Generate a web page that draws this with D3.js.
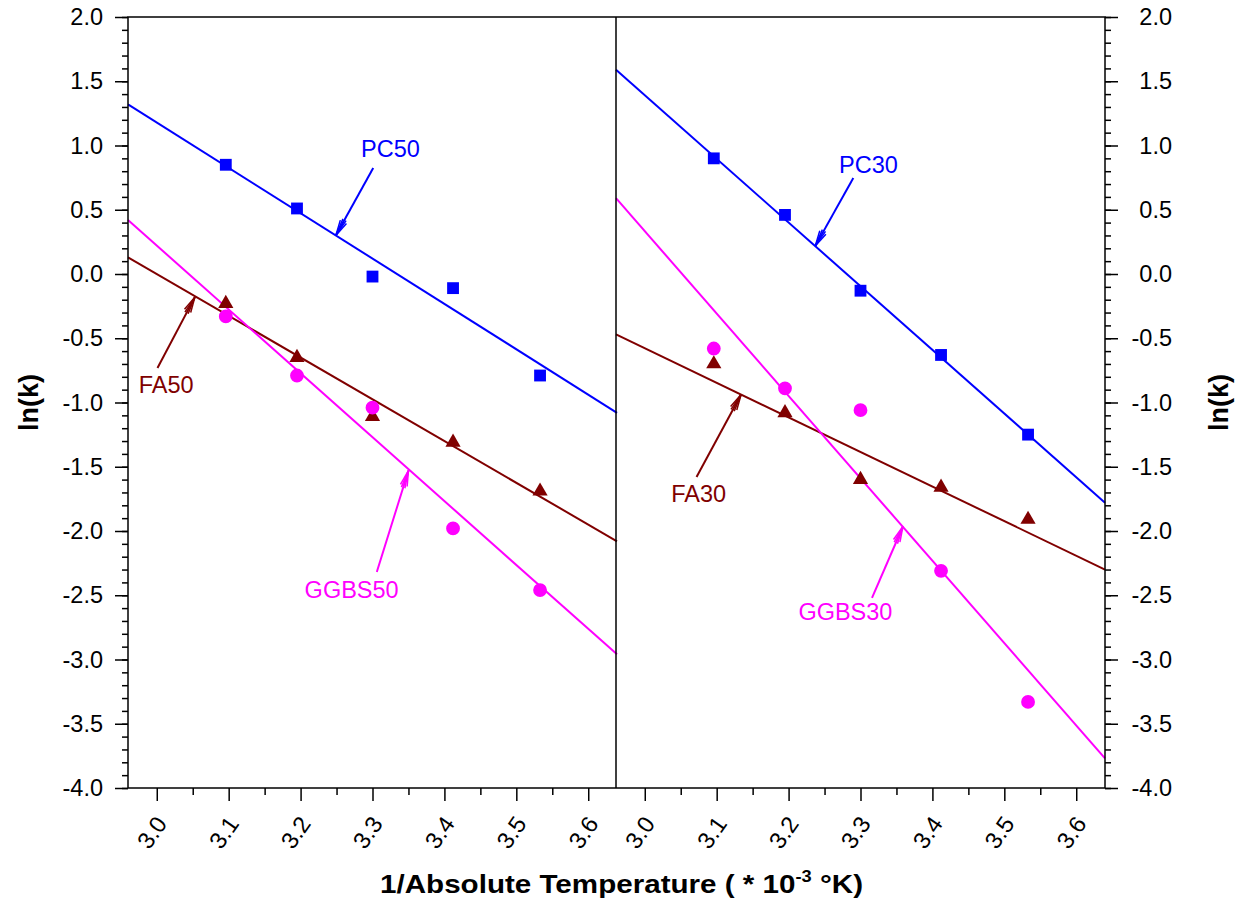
<!DOCTYPE html>
<html>
<head>
<meta charset="utf-8">
<script src="https://cdn.jsdelivr.net/npm/d3@7"></script>
<style>
  body { margin: 0; background: #fff; }
  svg { font-family: "Liberation Sans", Arial, sans-serif; }
  .axis path, .axis line { stroke: #000; stroke-width: 1.5px; }
  .axis text { font-size: 23.5px; fill: #000; }
</style>
</head>
<body>
<div id="chart"></div>
<script>
// inverse absolute temperature (1/K * 10^3)
const invTemp = [3.096, 3.195, 3.300, 3.412, 3.533];

const pc50 = [0.85, 0.51, -0.02, -0.11, -0.79];
const fa50 = [-0.23, -0.65, -1.11, -1.31, -1.69];
const ggbs50 = [-0.33, -0.79, -1.04, -1.98, -2.46];
const pc30 = [0.90, 0.46, -0.13, -0.63, -1.25];
const fa30 = [-0.70, -1.08, -1.60, -1.66, -1.91];
const ggbs30 = [-0.58, -0.89, -1.06, -2.31, -3.33];

// fitted lines, value at x = 2.96 and x = 3.64
const pc50Fit = [1.32, -1.08];
const fa50Fit = [0.13, -2.08];
const ggbs50Fit = [0.42, -2.96];
const pc30Fit = [1.59, -1.78];
const fa30Fit = [-0.47, -2.30];
const ggbs30Fit = [0.59, -3.77];

const xTicks = [3.0, 3.1, 3.2, 3.3, 3.4, 3.5, 3.6];
const xMinor = [3.05, 3.15, 3.25, 3.35, 3.45, 3.55];
const yTicks = [2.0, 1.5, 1.0, 0.5, 0.0, -0.5, -1.0, -1.5, -2.0, -2.5, -3.0, -3.5, -4.0];

// label text, anchor of text, arrow start, arrow tip (data units)
const labels50 = [
  { text: 'PC50', kind: 'pc', t: [3.325, 0.91], a: [3.301, 0.825], b: [3.249, 0.30] },
  { text: 'FA50', kind: 'fa', t: [3.013, -0.926], a: [3.001, -0.732], b: [3.053, -0.18] },
  { text: 'GGBS50', kind: 'ggbs', t: [3.271, -2.52], a: [3.306, -2.319], b: [3.35, -1.53] }
];
const labels30 = [
  { text: 'PC30', kind: 'pc', t: [3.311, 0.786], a: [3.290, 0.747], b: [3.237, 0.217] },
  { text: 'FA30', kind: 'fa', t: [3.075, -1.774], a: [3.072, -1.58], b: [3.134, -0.938] },
  { text: 'GGBS30', kind: 'ggbs', t: [3.279, -2.693], a: [3.316, -2.521], b: [3.359, -1.965] }
];

const colors = { pc: '#0000ff', fa: '#800000', ggbs: '#ff00ff' };

const width = 1244, height = 909;
const plotTop = 17, plotBottom = 788;
const panelW = 489;
const left0 = 128;

const svg = d3.select('#chart').append('svg')
  .attr('width', width)
  .attr('height', height);

const yScale = d3.scaleLinear().domain([-4, 2]).range([plotBottom, plotTop]);
const yMinorTicks = d3.range(-40, 21).map(d => d / 10);

function drawPanel(x0, series, labels) {
  const xScale = d3.scaleLinear().domain([2.96, 3.64]).range([x0, x0 + panelW]);
  const g = svg.append('g');

  // bottom axis, major + minor
  g.append('g')
    .attr('class', 'axis')
    .attr('transform', `translate(0,${plotBottom})`)
    .call(d3.axisBottom(xScale).tickValues(xMinor).tickSize(7).tickFormat(''))
    .call(a => a.select('.domain').remove());

  const xa = g.append('g')
    .attr('class', 'axis')
    .attr('transform', `translate(0,${plotBottom})`)
    .call(d3.axisBottom(xScale).tickValues(xTicks).tickSize(13).tickSizeOuter(0)
      .tickFormat(d => d.toFixed(1)));
  xa.select('.domain').remove();
  xa.selectAll('text')
    .attr('text-anchor', 'end')
    .attr('dy', '0.35em')
    .attr('transform', 'translate(4,31) rotate(-55)')
    .attr('x', 0).attr('y', 0);

  // fitted lines
  const line = d3.line().x(d => xScale(d[0])).y(d => yScale(d[1]));
  series.forEach(s => {
    g.append('path')
      .datum([[2.96, s.fit[0]], [3.64, s.fit[1]]])
      .attr('d', line)
      .attr('fill', 'none')
      .attr('stroke', colors[s.kind])
      .attr('stroke-width', 2);
  });

  // markers
  series.forEach(s => {
    const pts = invTemp.map((x, i) => [x, s.values[i]]);
    const sym = s.kind === 'pc' ? d3.symbolSquare : s.kind === 'fa' ? d3.symbolTriangle : d3.symbolCircle;
    const size = s.kind === 'pc' ? 140 : s.kind === 'fa' ? 100 : 150;
    g.selectAll(null)
      .data(pts)
      .join('path')
      .attr('d', d3.symbol().type(sym).size(size))
      .attr('transform', d => `translate(${xScale(d[0])},${yScale(d[1])})`)
      .attr('fill', colors[s.kind]);
  });

  // annotations with arrows
  labels.forEach(l => {
    const c = colors[l.kind];
    g.append('text')
      .attr('x', xScale(l.t[0]))
      .attr('y', yScale(l.t[1]))
      .attr('text-anchor', 'middle')
      .attr('font-size', 23.5)
      .attr('fill', c)
      .text(l.text);
    const ax = xScale(l.a[0]), ay = yScale(l.a[1]);
    const bx = xScale(l.b[0]), by = yScale(l.b[1]);
    g.append('line')
      .attr('x1', ax).attr('y1', ay).attr('x2', bx).attr('y2', by)
      .attr('stroke', c).attr('stroke-width', 2);
    const ang = Math.atan2(ay - by, ax - bx);
    [-0.22, -0.1, 0.1, 0.22].forEach(da => {
      const len = Math.abs(da) > 0.15 ? 16 : 18;
      g.append('line')
        .attr('x1', bx).attr('y1', by)
        .attr('x2', bx + len * Math.cos(ang + da))
        .attr('y2', by + len * Math.sin(ang + da))
        .attr('stroke', c).attr('stroke-width', 1.5);
    });
  });
  return xScale;
}

drawPanel(left0, [
  { kind: 'pc', values: pc50, fit: pc50Fit },
  { kind: 'fa', values: fa50, fit: fa50Fit },
  { kind: 'ggbs', values: ggbs50, fit: ggbs50Fit }
], labels50);

drawPanel(left0 + panelW - 1, [
  { kind: 'pc', values: pc30, fit: pc30Fit },
  { kind: 'fa', values: fa30, fit: fa30Fit },
  { kind: 'ggbs', values: ggbs30, fit: ggbs30Fit }
], labels30);

const right0 = left0 + 2 * panelW - 1;

// left y axis
svg.append('g')
  .attr('class', 'axis')
  .attr('transform', `translate(${left0},0)`)
  .call(d3.axisLeft(yScale).tickValues(yMinorTicks).tickSize(6).tickFormat(''))
  .call(a => a.select('.domain').remove());
svg.append('g')
  .attr('class', 'axis')
  .attr('transform', `translate(${left0},0)`)
  .call(d3.axisLeft(yScale).tickValues(yTicks).tickSize(13).tickPadding(12).tickSizeOuter(0)
    .tickFormat(d => d.toFixed(1)))
  .call(a => a.select('.domain').remove());

// right y axis
svg.append('g')
  .attr('class', 'axis')
  .attr('transform', `translate(${right0},0)`)
  .call(d3.axisRight(yScale).tickValues(yMinorTicks).tickSize(6).tickFormat(''))
  .call(a => a.select('.domain').remove());
svg.append('g')
  .attr('class', 'axis')
  .attr('transform', `translate(${right0},0)`)
  .call(d3.axisRight(yScale).tickValues(yTicks).tickSize(13).tickSizeOuter(0)
    .tickFormat(d => d.toFixed(1)))
  .call(a => a.select('.domain').remove())
  .call(a => a.selectAll('text').attr('text-anchor', 'end').attr('x', 67));

// frame and divider
svg.append('rect')
  .attr('x', left0).attr('y', plotTop)
  .attr('width', right0 - left0).attr('height', plotBottom - plotTop)
  .attr('fill', 'none').attr('stroke', '#000').attr('stroke-width', 1.5);
svg.append('line')
  .attr('x1', left0 + panelW - 1).attr('x2', left0 + panelW - 1)
  .attr('y1', plotTop).attr('y2', plotBottom)
  .attr('stroke', '#000').attr('stroke-width', 1.5);

// axis titles
const xt = svg.append('text')
  .attr('x', 380).attr('y', 893)
  .attr('font-size', 26).attr('font-weight', 'bold')
  .attr('textLength', 483)
  .attr('lengthAdjust', 'spacingAndGlyphs');
xt.append('tspan').text('1/Absolute Temperature ( * 10');
xt.append('tspan').attr('font-size', 16).attr('dy', -11).text('-3');
xt.append('tspan').attr('dy', 11).text(' °K)');

[29, 1219].forEach(x => {
  svg.append('text')
    .attr('transform', `translate(${x + 9},${(plotTop + plotBottom) / 2}) rotate(-90)`)
    .attr('text-anchor', 'middle')
    .attr('font-size', 27).attr('font-weight', 'bold')
    .text('ln(k)');
});
</script>
</body>
</html>
